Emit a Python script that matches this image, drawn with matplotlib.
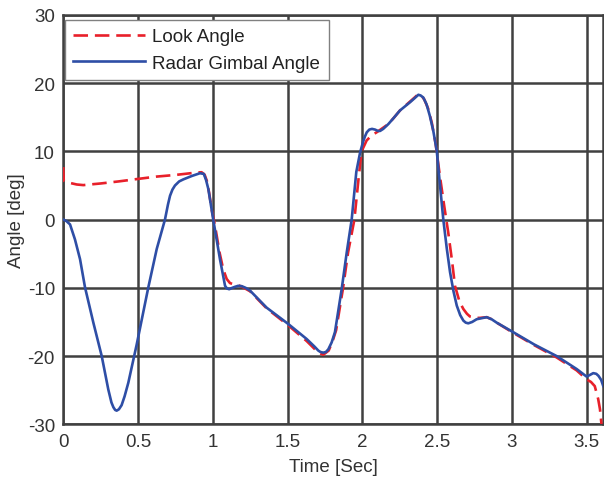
import matplotlib.pyplot as plt

# Radar gimbal angle (solid blue)
gimbal_t = [0.000, 0.02, 0.045, 0.078, 0.112, 0.145, 0.201, 0.257, 0.301, 0.322, 0.335,
            0.347, 0.357, 0.372, 0.39, 0.41, 0.435, 0.491, 0.569, 0.625, 0.68, 0.70,
            0.714, 0.73, 0.747, 0.775, 0.803, 0.86, 0.914, 0.94, 0.955, 0.97, 1.003,
            1.048, 1.082, 1.095, 1.11, 1.13, 1.148, 1.17, 1.193, 1.22, 1.249, 1.36,
            1.505, 1.628, 1.68, 1.706, 1.72, 1.739, 1.757, 1.773, 1.795, 1.817, 1.862,
            1.896, 1.929, 1.96, 1.985, 2.005, 2.018, 2.03, 2.047, 2.065, 2.085, 2.105,
            2.119, 2.14, 2.174, 2.21, 2.252, 2.319, 2.35, 2.375, 2.39, 2.408, 2.43,
            2.452, 2.475, 2.498, 2.52, 2.542, 2.565, 2.587, 2.61, 2.632, 2.655, 2.676,
            2.692, 2.709, 2.735, 2.765, 2.787, 2.832, 2.865, 2.899, 3.01, 3.15, 3.3,
            3.434, 3.5, 3.52, 3.545, 3.565, 3.58, 3.598, 3.612]
gimbal_v = [0.0, -0.2, -0.7, -2.9, -5.8, -9.9, -15.1, -20.0, -24.9, -26.8, -27.5,
            -27.9, -28.0, -27.8, -27.2, -25.9, -23.9, -18.3, -9.9, -4.3, 0.0, 2.2,
            3.5, 4.4, 5.0, 5.6, 5.9, 6.4, 6.8, 6.7, 5.8, 4.5, 0.0,
            -5.8, -9.7, -10.1, -10.2, -10.0, -9.85, -9.7, -9.75, -10.0, -10.4, -12.9,
            -15.3, -17.5, -18.6, -19.2, -19.4, -19.5, -19.4, -19.0, -18.0, -16.5, -10.2,
            -4.8, 0.0, 7.0, 9.8, 11.4, 12.2, 12.8, 13.2, 13.3, 13.2, 13.0,
            13.0, 13.3, 14.0, 14.9, 16.0, 17.2, 17.8, 18.3, 18.2, 17.9, 16.9,
            15.2, 13.0, 10.1, 5.0, 0.0, -4.2, -7.7, -10.5, -12.6, -14.0, -14.8,
            -15.1, -15.2, -15.0, -14.6, -14.5, -14.3, -14.6, -15.1, -16.5, -18.3, -20.0,
            -21.9, -23.0, -22.8, -22.5, -22.6, -22.9, -23.5, -24.4]

# Look angle (dashed red)
look_t = [0.0, 0.003, 0.04, 0.09, 0.134, 0.25, 0.37, 0.49, 0.62, 0.75, 0.892, 0.925,
          0.945, 0.96, 0.975, 0.995, 1.015, 1.045, 1.07, 1.093, 1.115, 1.14, 1.17,
          1.2, 1.249, 1.36, 1.505, 1.628, 1.706, 1.739, 1.775, 1.80, 1.825, 1.87,
          1.905, 1.947, 1.975, 1.995, 2.029, 2.06, 2.096, 2.135, 2.174, 2.21, 2.252,
          2.319, 2.35, 2.375, 2.395, 2.415, 2.44, 2.465, 2.49, 2.519, 2.548, 2.575,
          2.60, 2.62, 2.65, 2.676, 2.70, 2.72, 2.76, 2.787, 2.832, 2.865, 2.899,
          3.01, 3.15, 3.3, 3.434, 3.5, 3.53, 3.555, 3.578, 3.59, 3.6]
look_v = [7.7, 5.7, 5.4, 5.15, 5.06, 5.3, 5.6, 5.94, 6.3, 6.55, 6.9, 6.95,
          6.6, 5.7, 4.0, 1.2, -0.9, -4.8, -7.3, -8.7, -9.3, -9.5, -9.6,
          -9.9, -10.5, -13.0, -15.5, -17.8, -19.5, -19.8, -19.2, -17.9, -16.2, -10.2,
          -4.8, 0.0, 6.0, 10.0, 11.6, 12.3, 12.8, 13.4, 14.0, 14.9, 16.0,
          17.3, 17.9, 18.4, 18.2, 17.6, 16.3, 14.2, 11.2, 6.4, 2.0, -1.9,
          -6.0, -9.7, -12.0, -13.1, -13.8, -14.2, -14.4, -14.4, -14.3, -14.6, -15.1,
          -16.6, -18.4, -20.2, -22.1, -23.4, -23.8, -24.4, -26.3, -27.8, -30.0]

x_ticks = [0, 0.5, 1, 1.5, 2, 2.5, 3, 3.5]
x_ticklabels = ["0", "0.5", "1", "1.5", "2", "2.5", "3", "3.5"]
y_ticks = [-30, -20, -10, 0, 10, 20, 30]

plt.rcParams["font.family"] = ["Liberation Sans", "DejaVu Sans"]
plt.rcParams["axes.unicode_minus"] = False

fig = plt.figure(figsize=(6.04, 4.85), dpi=100)
ax = fig.add_axes([0.1048, 0.1231, 0.894, 0.844])

ax.plot(look_t, look_v, color="#e8202a", lw=1.9, dashes=(5.5, 2.6), label="Look Angle",
        zorder=3, solid_joinstyle="round")
ax.plot(gimbal_t, gimbal_v, color="#2e4ea6", lw=1.9, label="Radar Gimbal Angle",
        zorder=4, solid_joinstyle="round")

ax.set_xlim(0, 3.612)
ax.set_ylim(-30, 30)
ax.set_xticks(x_ticks)
ax.set_xticklabels(x_ticklabels)
ax.set_yticks(y_ticks)
ax.grid(True, color="#404040", lw=1.8)
ax.set_axisbelow(True)
for s in ax.spines.values():
    s.set_color("#404040")
    s.set_linewidth(1.8)
ax.tick_params(length=0, pad=6, labelsize=13.5, labelcolor="#333333")

ax.set_xlabel("Time [Sec]", fontsize=13.5, color="#333333", labelpad=6)
ax.set_ylabel("Angle [deg]", fontsize=13.5, color="#333333")
ax.yaxis.set_label_coords(-0.071, 0.5)

leg = ax.legend(loc="upper left", bbox_to_anchor=(0.003, 0.988), fontsize=13.5,
                fancybox=False, framealpha=1, edgecolor="#808080", borderaxespad=0,
                handlelength=3.84, handletextpad=0.37, borderpad=0.45, labelspacing=0.5)
leg.get_frame().set_linewidth(1.0)
for t in leg.get_texts():
    t.set_color("#222222")

fig.savefig("out.png", dpi=100)
